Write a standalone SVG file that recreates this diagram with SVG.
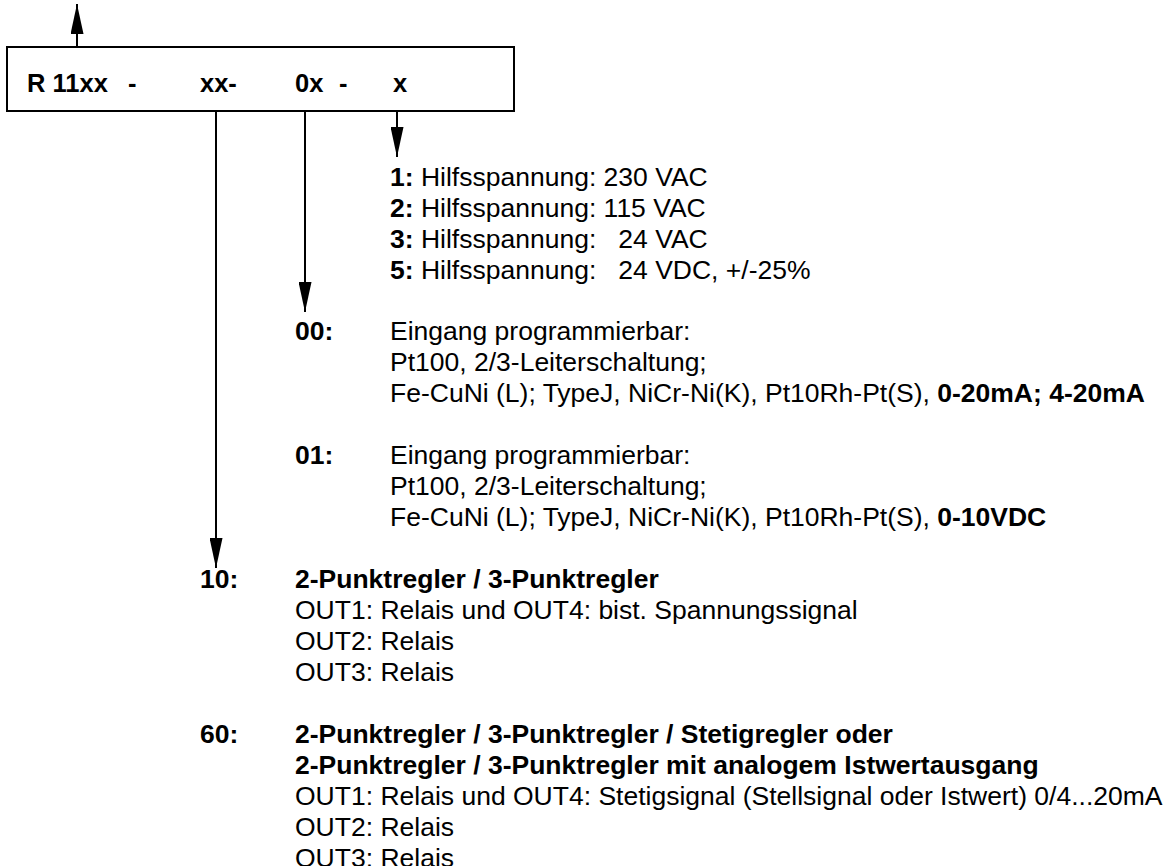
<svg xmlns="http://www.w3.org/2000/svg" width="1170" height="866" viewBox="0 0 1170 866">
<defs>
<style>
text{font-family:"Liberation Sans",Arial,sans-serif;fill:#000}
.h{font-size:25.5px;font-weight:bold}
.t{font-size:26.5px}
.b{font-weight:bold}
.ln{stroke:#000;stroke-width:2;fill:none}
</style>
<marker id="ah" viewBox="0 0 30 13" refX="30" refY="6.5" markerWidth="30" markerHeight="13" markerUnits="userSpaceOnUse" orient="auto">
<path d="M0,0 L30,6.5 L0,13 Z" fill="#000"/>
</marker>
</defs>
<rect width="1170" height="866" fill="#fff"/>
<g id="code">
<rect x="7" y="47" width="507" height="64" fill="#fff" stroke="#000" stroke-width="2"/>
<text class="h" x="27" y="92">R 11xx</text>
<text class="h" x="128" y="92">-</text>
<text class="h" x="200" y="92">xx-</text>
<text class="h" x="295" y="92">0x</text>
<text class="h" x="339" y="92">-</text>
<text class="h" x="393" y="92">x</text>
</g>
<g id="connectors">
<line class="ln" x1="77" y1="47" x2="77" y2="4" marker-end="url(#ah)"/>
<line class="ln" x1="216" y1="111" x2="216" y2="568" marker-end="url(#ah)"/>
<line class="ln" x1="305" y1="111" x2="305" y2="312" marker-end="url(#ah)"/>
<line class="ln" x1="397" y1="111" x2="397" y2="157" marker-end="url(#ah)"/>
</g>
<g id="supply" class="t">
<text x="390" y="186"><tspan class="b">1:</tspan> Hilfsspannung: 230 VAC</text>
<text x="390" y="217"><tspan class="b">2:</tspan> Hilfsspannung: 115 VAC</text>
<text x="390" y="248" xml:space="preserve"><tspan class="b">3:</tspan> Hilfsspannung:   24 VAC</text>
<text x="390" y="279" xml:space="preserve"><tspan class="b">5:</tspan> Hilfsspannung:   24 VDC, +/-25%</text>
</g>
<g id="input00" class="t">
<text class="b" x="295" y="340">00:</text>
<text x="390" y="340">Eingang programmierbar:</text>
<text x="390" y="371">Pt100, 2/3-Leiterschaltung;</text>
<text x="390" y="402">Fe-CuNi (L); TypeJ, NiCr-Ni(K), Pt10Rh-Pt(S), <tspan class="b">0-20mA; 4-20mA</tspan></text>
</g>
<g id="input01" class="t">
<text class="b" x="295" y="464">01:</text>
<text x="390" y="464">Eingang programmierbar:</text>
<text x="390" y="495">Pt100, 2/3-Leiterschaltung;</text>
<text x="390" y="526">Fe-CuNi (L); TypeJ, NiCr-Ni(K), Pt10Rh-Pt(S), <tspan class="b">0-10VDC</tspan></text>
</g>
<g id="output10" class="t">
<text class="b" x="200" y="588">10:</text>
<text class="b" x="295" y="588">2-Punktregler / 3-Punktregler</text>
<text x="295" y="619">OUT1: Relais und OUT4: bist. Spannungssignal</text>
<text x="295" y="650">OUT2: Relais</text>
<text x="295" y="681">OUT3: Relais</text>
</g>
<g id="output60" class="t">
<text class="b" x="200" y="743">60:</text>
<text class="b" x="295" y="743">2-Punktregler / 3-Punktregler / Stetigregler oder</text>
<text class="b" x="295" y="774">2-Punktregler / 3-Punktregler mit analogem Istwertausgang</text>
<text x="295" y="805">OUT1: Relais und OUT4: Stetigsignal (Stellsignal oder Istwert) 0/4...20mA</text>
<text x="295" y="836">OUT2: Relais</text>
<text x="295" y="867">OUT3: Relais</text>
</g>
</svg>
